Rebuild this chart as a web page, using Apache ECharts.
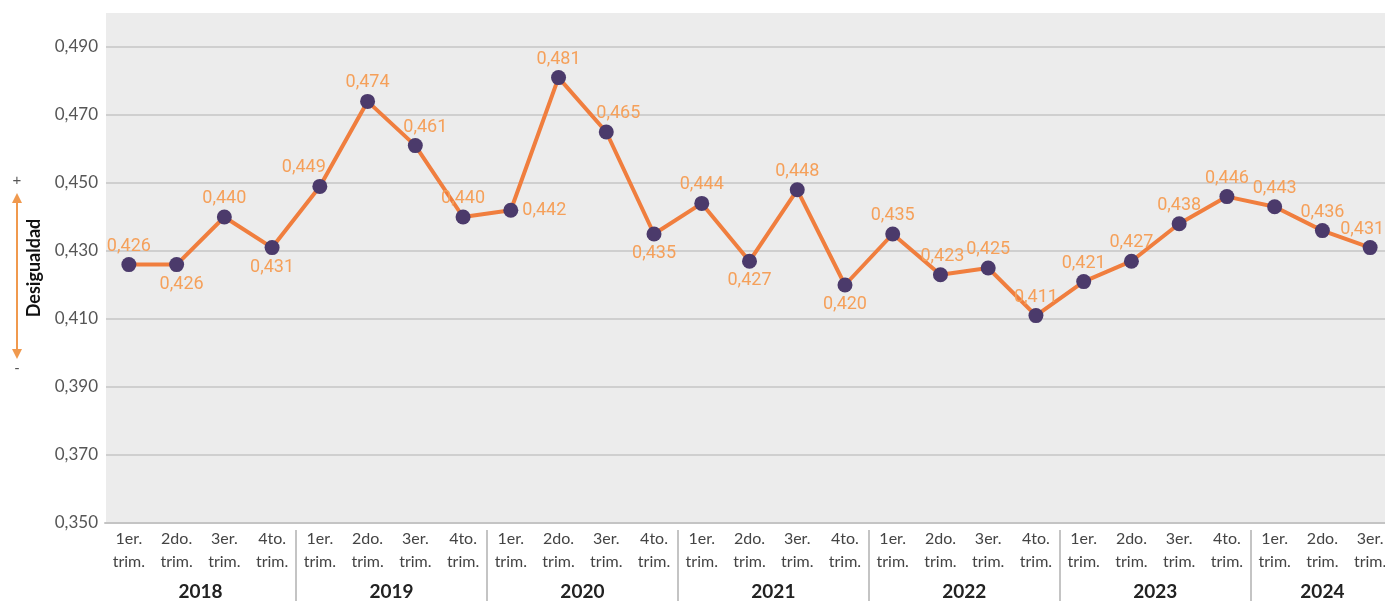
<!DOCTYPE html>
<html lang="es">
<head>
    <meta charset="UTF-8">
    <title>Desigualdad por trimestre</title>
    <script src="https://cdn.jsdelivr.net/npm/echarts@6/dist/echarts.min.js"></script>
    <style>
        html, body { margin: 0; padding: 0; background: #ffffff; overflow: hidden; }
        #chart { width: 1385px; height: 601px; }
    </style>
</head>
<body>
<div id="chart"></div>
<script>
    // trimestres y años
    var quarters = ['1er.\ntrim.', '2do.\ntrim.', '3er.\ntrim.', '4to.\ntrim.'];
    var years = ['2018', '2019', '2020', '2021', '2022', '2023', '2024'];
    var quartersPerYear = [4, 4, 4, 4, 4, 4, 3];
    var gini = [
        0.426, 0.426, 0.440, 0.431,
        0.449, 0.474, 0.461, 0.440,
        0.442, 0.481, 0.465, 0.435,
        0.444, 0.427, 0.448, 0.420,
        0.435, 0.423, 0.425, 0.411,
        0.421, 0.427, 0.438, 0.446,
        0.443, 0.436, 0.431
    ];
    var yTicks = [0.35, 0.37, 0.39, 0.41, 0.43, 0.45, 0.47, 0.49];

    // donde va cada etiqueta respecto al punto
    var labelPlace = [
        'top', 'bottom', 'top', 'bottom',
        'top', 'top', 'top', 'top',
        'right', 'top', 'top', 'bottom',
        'top', 'bottom', 'top', 'bottom',
        'top', 'top', 'top', 'top',
        'top', 'top', 'top', 'top',
        'top', 'top', 'top'
    ];
    // corrimiento horizontal de algunas etiquetas
    var labelShift = [
        0, 5, 0, 0,
        -16, 0, 10, 0,
        0, 0, 12, 0,
        0, 0, 0, 0,
        0, 2, 0, 0,
        0, 0, 0, 0,
        0, 0, -8
    ];

    var cats = [];
    var yearCenters = [];
    var yearBounds = [];
    var pos = 0;
    for (var i = 0; i < years.length; i++) {
        for (var q = 0; q < quartersPerYear[i]; q++) cats.push(quarters[q]);
        yearCenters.push(pos + quartersPerYear[i] / 2);
        pos += quartersPerYear[i];
        if (i < years.length - 1) yearBounds.push(pos);
    }

    function fmt(v) {
        return v.toFixed(3).replace('.', ',');
    }

    var points = gini.map(function (v, i) {
        var p = labelPlace[i];
        return {
            value: v,
            label: {
                position: p,
                distance: p === 'right' ? 4 : (p === 'top' ? 2 : 3),
                offset: [labelShift[i], 0]
            }
        };
    });

    var option = {
        animation: false,
        grid: {
            left: 105, width: 1289, top: 13, bottom: 78,
            outerBoundsMode: 'none',
            show: false
        },
        xAxis: [
            {
                type: 'category',
                data: cats,
                boundaryGap: true,
                axisLine: { lineStyle: { color: '#c4c4c4', width: 2 } },
                axisTick: { show: false },
                splitLine: { show: false },
                axisLabel: {
                    color: '#444', fontSize: 16, lineHeight: 23, margin: 4,
                    fontFamily: 'Lato, "Noto Sans", sans-serif', interval: 0
                }
            },
            {
                type: 'value',
                position: 'bottom',
                min: 0,
                max: cats.length,
                offset: 7,
                axisLine: { show: false, onZero: false },
                splitLine: { show: false },
                axisTick: {
                    show: true, length: 76, customValues: yearBounds,
                    lineStyle: { color: '#c4c4c4', width: 2 }
                },
                axisLabel: {
                    customValues: yearCenters,
                    margin: 52,
                    color: '#222', fontSize: 19, fontWeight: 'bold',
                    fontFamily: 'Lato, "Noto Sans", sans-serif',
                    formatter: function (v) {
                        var k = yearCenters.indexOf(v);
                        return k >= 0 ? years[k] : '';
                    }
                }
            }
        ],
        yAxis: {
            type: 'value',
            min: 0.35,
            max: 0.5,
            interval: 0.02,
            name: 'Desigualdad',
            nameLocation: 'middle',
            nameRotate: 90,
            nameGap: 62,
            nameTextStyle: { color: '#111', fontSize: 18, fontWeight: 'bold', fontFamily: 'Lato, "Noto Sans", sans-serif' },
            // linea blanca: tapa el borde gris que queda en el lado izquierdo
            axisLine: { show: true, onZero: false, lineStyle: { color: '#ffffff', width: 2 } },
            axisTick: { show: false },
            axisLabel: {
                color: '#555', fontSize: 17, margin: 7, showMaxLabel: false,
                fontFamily: 'Lato, "Noto Sans", sans-serif',
                formatter: function (v) { return yTicks.some(function (t) { return Math.abs(t - v) < 1e-6; }) ? fmt(v) : ''; }
            },
            splitLine: { showMaxLine: false, lineStyle: { color: '#c6c6c6', width: 1.5 } },
            splitArea: { show: true, areaStyle: { color: ['#ececec', '#ececec'] } }
        },
        graphic: [
            { type: 'line', shape: { x1: 17, y1: 200, x2: 17, y2: 352 }, style: { stroke: '#f0994e', lineWidth: 2 } },
            { type: 'polygon', shape: { points: [[17, 193], [12, 203], [22, 203]] }, style: { fill: '#f0994e' } },
            { type: 'polygon', shape: { points: [[17, 359], [12, 349], [22, 349]] }, style: { fill: '#f0994e' } },
            { type: 'text', x: 17, y: 181, style: { text: '+', fill: '#555', fontSize: 15, align: 'center', verticalAlign: 'middle' } },
            { type: 'text', x: 17, y: 369, style: { text: '-', fill: '#555', fontSize: 15, align: 'center', verticalAlign: 'middle' } }
        ],
        series: [
            {
                type: 'line',
                data: points,
                symbol: 'circle',
                symbolSize: 15,
                itemStyle: { color: '#4b3a6b' },
                lineStyle: { color: '#f07e3e', width: 4 },
                label: {
                    show: true,
                    color: '#f5a05a',
                    fontSize: 18,
                    fontFamily: 'Roboto, sans-serif',
                    formatter: function (p) { return fmt(p.value); }
                },
                z: 3
            }
        ]
    };

    echarts.init(document.getElementById('chart')).setOption(option);
</script>
</body>
</html>
